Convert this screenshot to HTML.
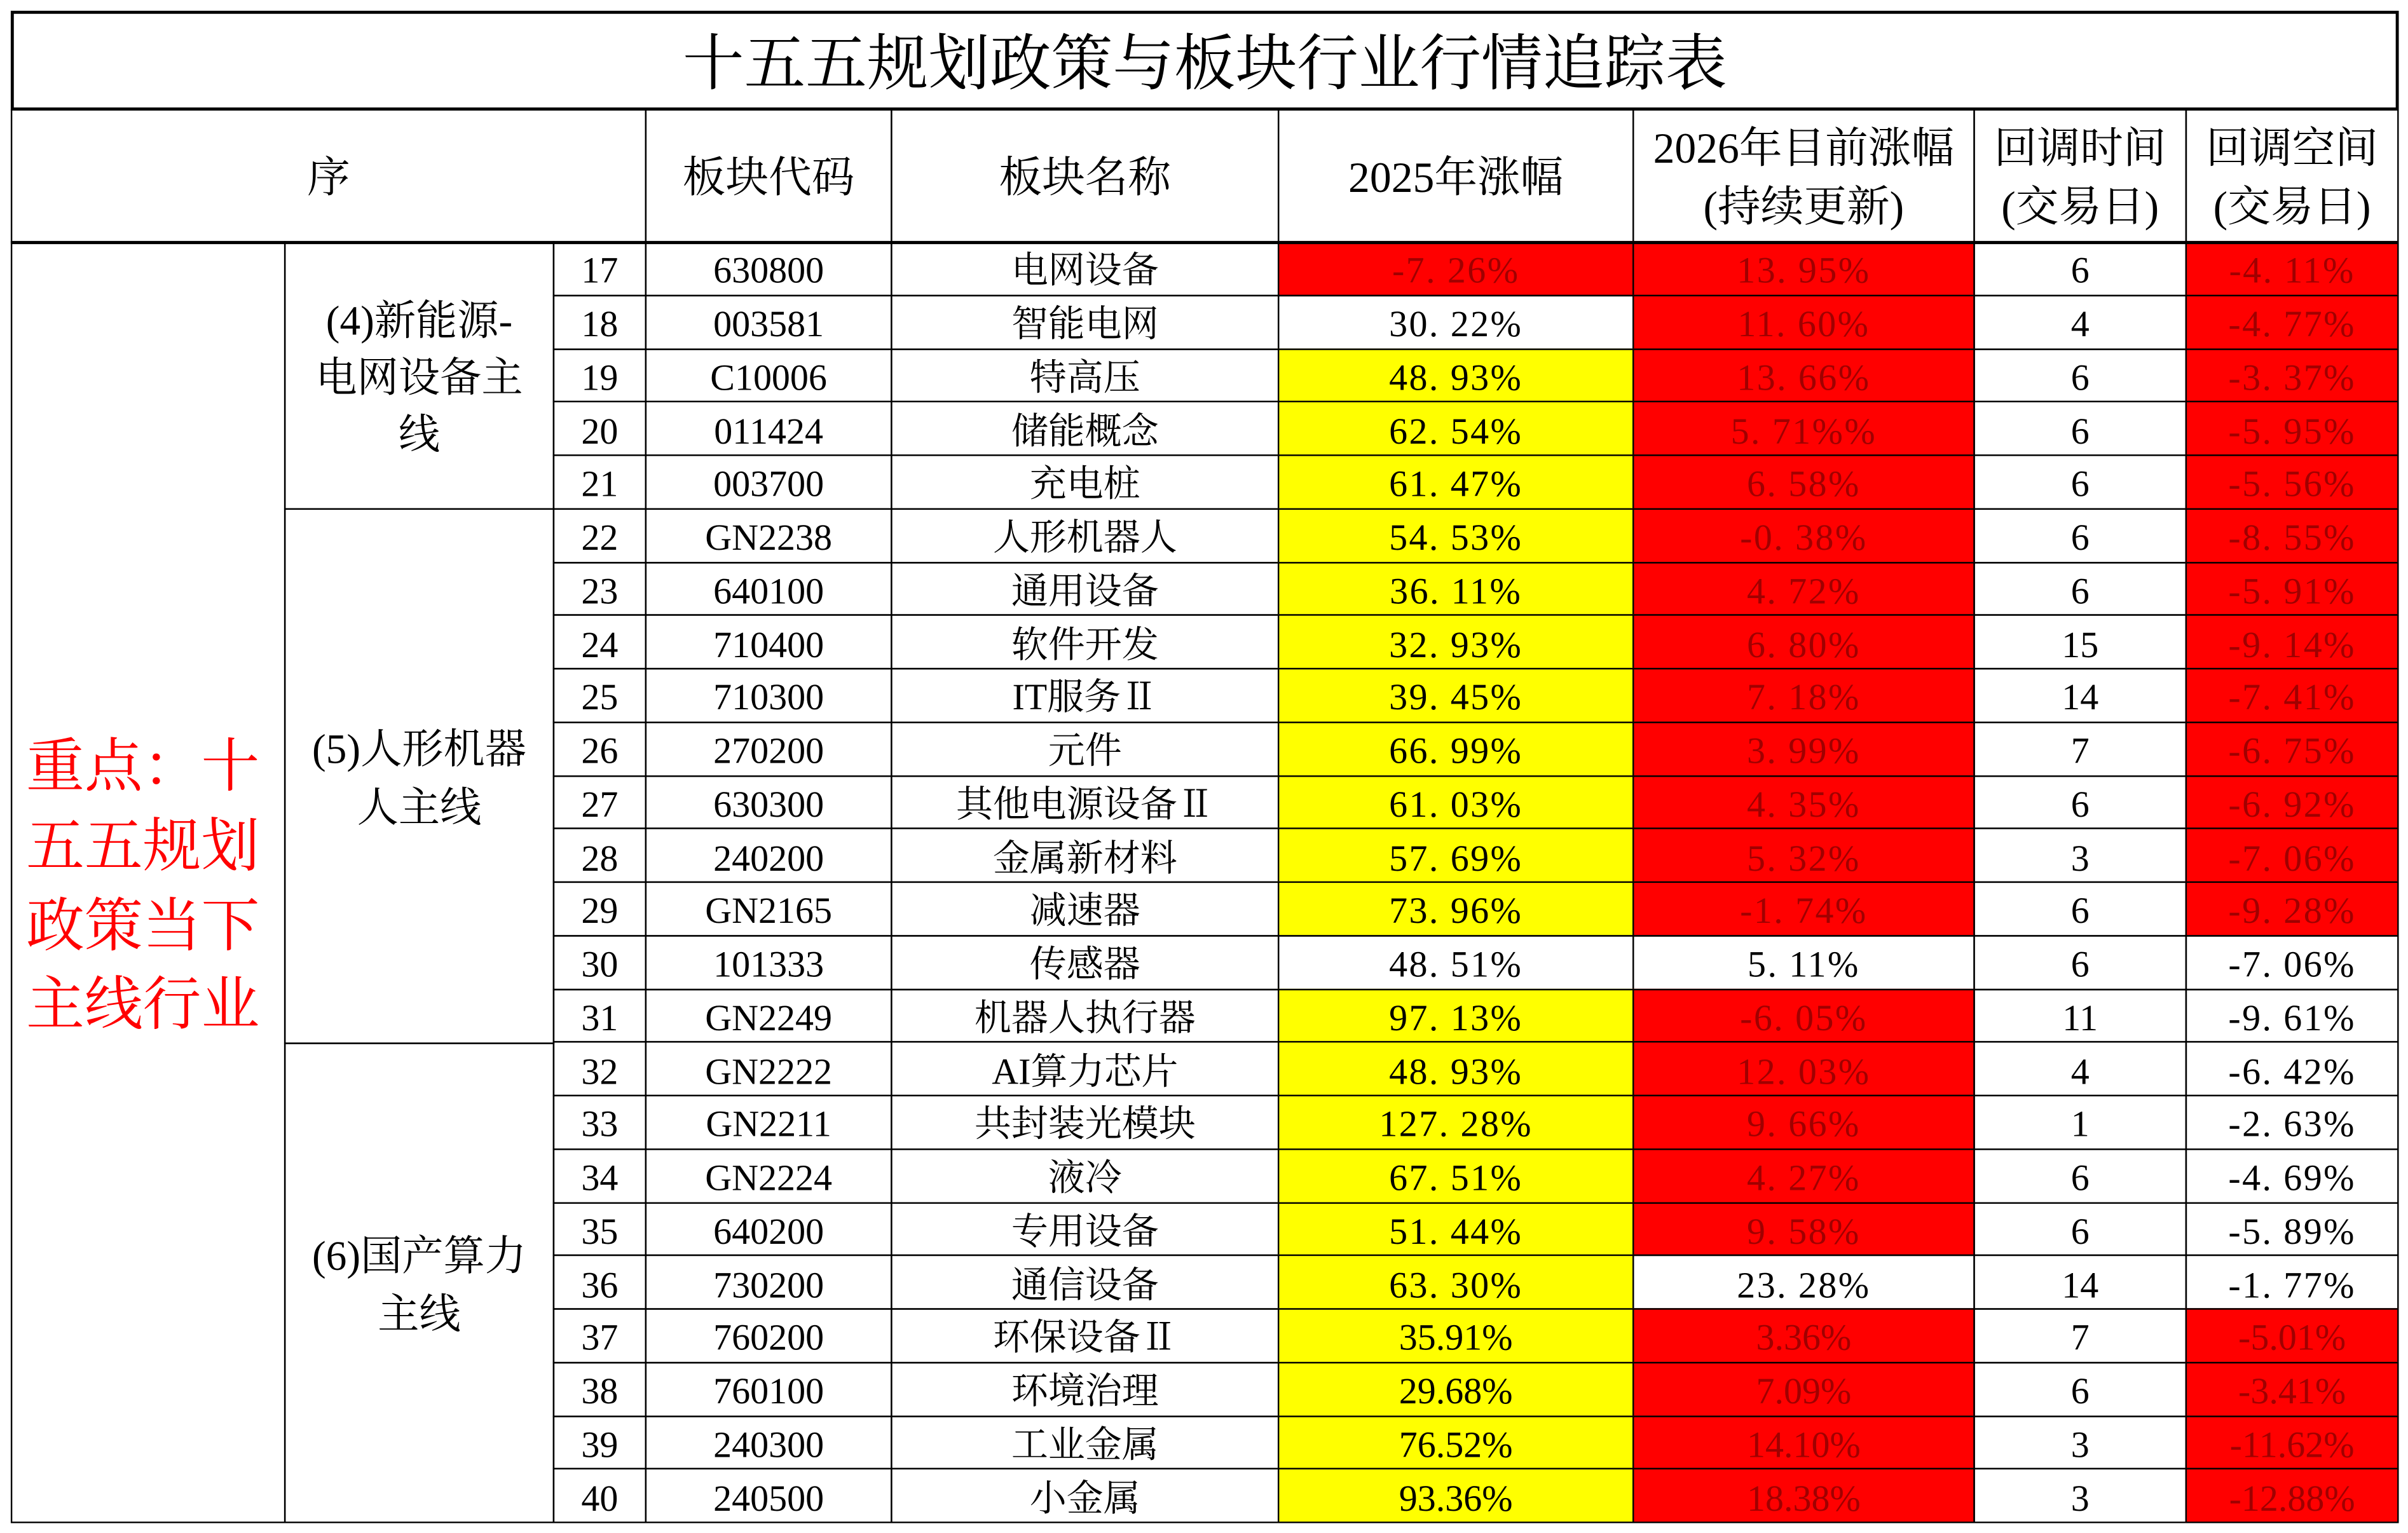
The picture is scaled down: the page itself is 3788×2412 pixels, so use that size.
<!DOCTYPE html>
<html><head><meta charset="utf-8"><style>
html,body{margin:0;padding:0;background:#fff;}
body{width:3788px;height:2412px;overflow:hidden;position:relative;}
#w{position:absolute;left:0;top:0;width:1568px;height:998px;transform:scale(2.41582);transform-origin:0 0;font-family:"Liberation Serif","Noto Serif CJK SC",serif;color:#000;}
.c{position:absolute;box-sizing:border-box;border:1px solid #000;display:flex;align-items:center;justify-content:center;text-align:center;white-space:nowrap;font-size:24px;line-height:1;}
.row{position:absolute;left:0;width:1568px;height:34.75px;}
.row .c{top:0;height:35.75px;padding-top:5px;}
.a{left:360px;width:61px}.b{left:420px;width:161px}.d{left:580px;width:253px}.e{left:832px;width:232px}.f{left:1063px;width:223px}.g{left:1285px;width:139px}.h{left:1423px;width:139px}
.R{background:#ff0000;color:#a00000;}
.Y{background:#ffff00;}
.n{letter-spacing:1px;}
.hd{top:71px;height:87px;font-size:28px;line-height:1.35;padding-top:4px;}
.grp{left:185px;width:176px;font-size:27px;line-height:1.38;white-space:normal;}
</style></head><body><div id="w">
<div class="c" style="left:7px;top:7px;width:1555px;height:65px;font-size:40px;border-width:2px;padding-top:4px;">十五五规划政策与板块行业行情追踪表</div>
<div class="c hd" style="left:7px;width:414px;">序</div>
<div class="c hd b">板块代码</div>
<div class="c hd d">板块名称</div>
<div class="c hd e">2025年涨幅</div>
<div class="c hd f">2026年目前涨幅<br>(持续更新)</div>
<div class="c hd g">回调时间<br>(交易日)</div>
<div class="c hd h">回调空间<br>(交易日)</div>
<div class="c" style="left:7px;top:157px;width:179px;height:835px;color:#ff0000;font-size:38px;line-height:1.36;justify-content:flex-start;padding-left:9px;padding-top:8px;">重点：十<br>五五规划<br>政策当下<br>主线行业</div>
<div class="c grp" style="top:157px;height:175px;padding-top:4px;">(4)新能源-<br>电网设备主<br>线</div>
<div class="c grp" style="top:331px;height:349px;padding-top:4px;">(5)人形机器<br>人主线</div>
<div class="c grp" style="top:679px;height:313px;padding-top:4px;">(6)国产算力<br>主线</div>

<div class="row" style="top:157px"><div class="c a">17</div><div class="c b">630800</div><div class="c d">电网设备</div><div class="c e R n">-7. 26%</div><div class="c f R n">13. 95%</div><div class="c g">6</div><div class="c h R n">-4. 11%</div></div>
<div class="row" style="top:191.75px"><div class="c a">18</div><div class="c b">003581</div><div class="c d">智能电网</div><div class="c e n">30. 22%</div><div class="c f R n">11. 60%</div><div class="c g">4</div><div class="c h R n">-4. 77%</div></div>
<div class="row" style="top:226.5px"><div class="c a">19</div><div class="c b">C10006</div><div class="c d">特高压</div><div class="c e Y n">48. 93%</div><div class="c f R n">13. 66%</div><div class="c g">6</div><div class="c h R n">-3. 37%</div></div>
<div class="row" style="top:261.25px"><div class="c a">20</div><div class="c b">011424</div><div class="c d">储能概念</div><div class="c e Y n">62. 54%</div><div class="c f R n">5. 71%%</div><div class="c g">6</div><div class="c h R n">-5. 95%</div></div>
<div class="row" style="top:296px"><div class="c a">21</div><div class="c b">003700</div><div class="c d">充电桩</div><div class="c e Y n">61. 47%</div><div class="c f R n">6. 58%</div><div class="c g">6</div><div class="c h R n">-5. 56%</div></div>
<div class="row" style="top:330.75px"><div class="c a">22</div><div class="c b">GN2238</div><div class="c d">人形机器人</div><div class="c e Y n">54. 53%</div><div class="c f R n">-0. 38%</div><div class="c g">6</div><div class="c h R n">-8. 55%</div></div>
<div class="row" style="top:365.5px"><div class="c a">23</div><div class="c b">640100</div><div class="c d">通用设备</div><div class="c e Y n">36. 11%</div><div class="c f R n">4. 72%</div><div class="c g">6</div><div class="c h R n">-5. 91%</div></div>
<div class="row" style="top:400.25px"><div class="c a">24</div><div class="c b">710400</div><div class="c d">软件开发</div><div class="c e Y n">32. 93%</div><div class="c f R n">6. 80%</div><div class="c g">15</div><div class="c h R n">-9. 14%</div></div>
<div class="row" style="top:435px"><div class="c a">25</div><div class="c b">710300</div><div class="c d">IT服务Ⅱ</div><div class="c e Y n">39. 45%</div><div class="c f R n">7. 18%</div><div class="c g">14</div><div class="c h R n">-7. 41%</div></div>
<div class="row" style="top:469.75px"><div class="c a">26</div><div class="c b">270200</div><div class="c d">元件</div><div class="c e Y n">66. 99%</div><div class="c f R n">3. 99%</div><div class="c g">7</div><div class="c h R n">-6. 75%</div></div>
<div class="row" style="top:504.5px"><div class="c a">27</div><div class="c b">630300</div><div class="c d">其他电源设备Ⅱ</div><div class="c e Y n">61. 03%</div><div class="c f R n">4. 35%</div><div class="c g">6</div><div class="c h R n">-6. 92%</div></div>
<div class="row" style="top:539.25px"><div class="c a">28</div><div class="c b">240200</div><div class="c d">金属新材料</div><div class="c e Y n">57. 69%</div><div class="c f R n">5. 32%</div><div class="c g">3</div><div class="c h R n">-7. 06%</div></div>
<div class="row" style="top:574px"><div class="c a">29</div><div class="c b">GN2165</div><div class="c d">减速器</div><div class="c e Y n">73. 96%</div><div class="c f R n">-1. 74%</div><div class="c g">6</div><div class="c h R n">-9. 28%</div></div>
<div class="row" style="top:608.75px"><div class="c a">30</div><div class="c b">101333</div><div class="c d">传感器</div><div class="c e n">48. 51%</div><div class="c f n">5. 11%</div><div class="c g">6</div><div class="c h n">-7. 06%</div></div>
<div class="row" style="top:643.5px"><div class="c a">31</div><div class="c b">GN2249</div><div class="c d">机器人执行器</div><div class="c e Y n">97. 13%</div><div class="c f R n">-6. 05%</div><div class="c g">11</div><div class="c h n">-9. 61%</div></div>
<div class="row" style="top:678.25px"><div class="c a">32</div><div class="c b">GN2222</div><div class="c d">AI算力芯片</div><div class="c e Y n">48. 93%</div><div class="c f R n">12. 03%</div><div class="c g">4</div><div class="c h n">-6. 42%</div></div>
<div class="row" style="top:713px"><div class="c a">33</div><div class="c b">GN2211</div><div class="c d">共封装光模块</div><div class="c e Y n">127. 28%</div><div class="c f R n">9. 66%</div><div class="c g">1</div><div class="c h n">-2. 63%</div></div>
<div class="row" style="top:747.75px"><div class="c a">34</div><div class="c b">GN2224</div><div class="c d">液冷</div><div class="c e Y n">67. 51%</div><div class="c f R n">4. 27%</div><div class="c g">6</div><div class="c h n">-4. 69%</div></div>
<div class="row" style="top:782.5px"><div class="c a">35</div><div class="c b">640200</div><div class="c d">专用设备</div><div class="c e Y n">51. 44%</div><div class="c f R n">9. 58%</div><div class="c g">6</div><div class="c h n">-5. 89%</div></div>
<div class="row" style="top:817.25px"><div class="c a">36</div><div class="c b">730200</div><div class="c d">通信设备</div><div class="c e Y n">63. 30%</div><div class="c f n">23. 28%</div><div class="c g">14</div><div class="c h n">-1. 77%</div></div>
<div class="row" style="top:852px"><div class="c a">37</div><div class="c b">760200</div><div class="c d">环保设备Ⅱ</div><div class="c e Y">35.91%</div><div class="c f R">3.36%</div><div class="c g">7</div><div class="c h R">-5.01%</div></div>
<div class="row" style="top:886.75px"><div class="c a">38</div><div class="c b">760100</div><div class="c d">环境治理</div><div class="c e Y">29.68%</div><div class="c f R">7.09%</div><div class="c g">6</div><div class="c h R">-3.41%</div></div>
<div class="row" style="top:921.5px"><div class="c a">39</div><div class="c b">240300</div><div class="c d">工业金属</div><div class="c e Y">76.52%</div><div class="c f R">14.10%</div><div class="c g">3</div><div class="c h R">-11.62%</div></div>
<div class="row" style="top:956.25px"><div class="c a">40</div><div class="c b">240500</div><div class="c d">小金属</div><div class="c e Y">93.36%</div><div class="c f R">18.38%</div><div class="c g">3</div><div class="c h R">-12.88%</div></div>
<div style="position:absolute;left:7px;top:157px;width:1555px;height:0;border-top:2px solid #000;"></div>
</div></body></html>
